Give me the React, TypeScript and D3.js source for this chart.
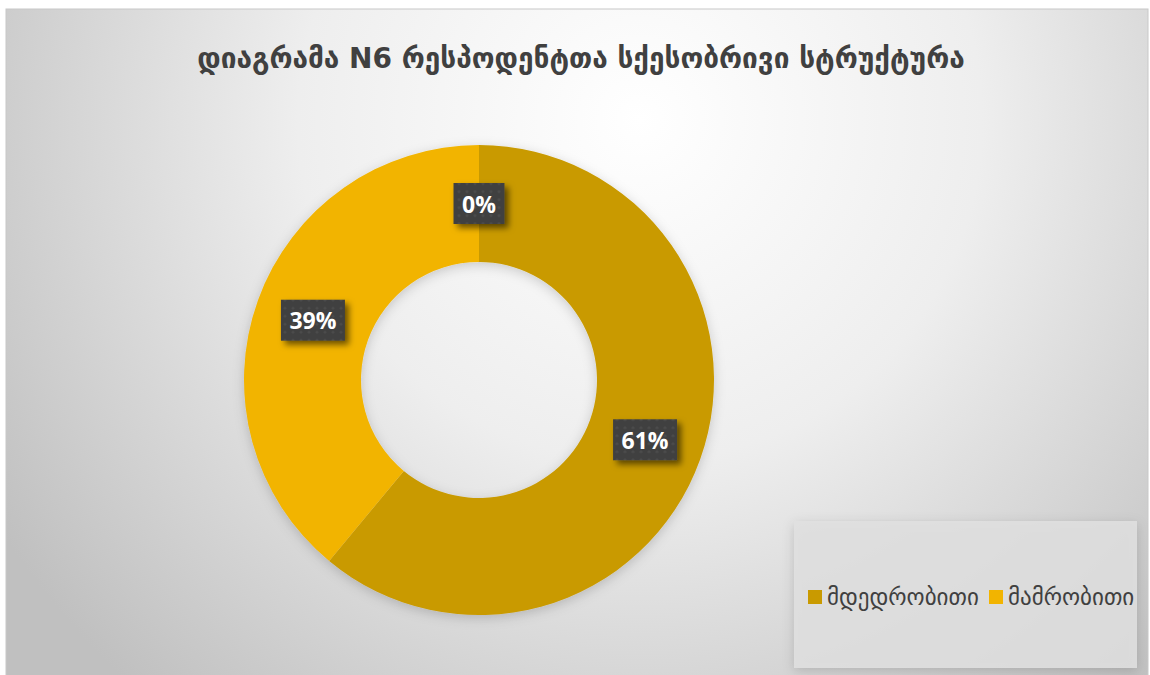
import React, { useEffect, useRef } from 'react';
import * as d3 from 'd3';

const categories = ['მდედრობითი', 'მამრობითი', ''];
const values = [61, 39, 0];
const valueLabels = ['61%', '39%', '0%'];
const colors = ['#C99A00', '#F2B400', '#A0A0A0'];
const legendItems = ['მდედრობითი', 'მამრობითი'];
const title = 'დიაგრამა N6 რესპოდენტთა სქესობრივი სტრუქტურა';

const W = 1150;
const H = 675;

export default function App() {
  const svgRef = useRef<SVGSVGElement>(null);

  useEffect(() => {
    if (!svgRef.current) return;
    const svg = d3.select(svgRef.current);
    svg.selectAll('*').remove();

    const defs = svg.append('defs');

    const bg = defs.append('radialGradient')
      .attr('id', 'bg')
      .attr('gradientUnits', 'userSpaceOnUse')
      .attr('cx', 640).attr('cy', 120).attr('r', 760);
    bg.append('stop').attr('offset', '0%').attr('stop-color', '#ffffff');
    bg.append('stop').attr('offset', '45%').attr('stop-color', '#eeeeee');
    bg.append('stop').attr('offset', '100%').attr('stop-color', '#c0c0c0');

    const pat = defs.append('pattern')
      .attr('id', 'dots')
      .attr('patternUnits', 'userSpaceOnUse')
      .attr('width', 8).attr('height', 8);
    pat.append('rect').attr('width', 8).attr('height', 8).attr('fill', '#3f3f3f');
    pat.append('circle').attr('cx', 4).attr('cy', 4).attr('r', 1.6).attr('fill', '#4b4b4b');

    const shadow = defs.append('filter').attr('id', 'shadow')
      .attr('x', '-30%').attr('y', '-30%').attr('width', '160%').attr('height', '160%');
    shadow.append('feDropShadow')
      .attr('dx', 4).attr('dy', 4).attr('stdDeviation', 3)
      .attr('flood-color', '#000').attr('flood-opacity', 0.55);

    const soft = defs.append('filter').attr('id', 'soft')
      .attr('x', '-10%').attr('y', '-10%').attr('width', '120%').attr('height', '120%');
    soft.append('feDropShadow')
      .attr('dx', 0).attr('dy', 3).attr('stdDeviation', 6)
      .attr('flood-color', '#000').attr('flood-opacity', 0.18);

    // chart area
    svg.append('rect')
      .attr('x', 6).attr('y', 9).attr('width', 1142).attr('height', 670)
      .attr('fill', 'url(#bg)')
      .attr('stroke', '#c8c8c8').attr('stroke-width', 1);

    svg.append('text')
      .attr('x', 581).attr('y', 68)
      .attr('text-anchor', 'middle')
      .attr('font-family', '"DejaVu Sans", sans-serif')
      .attr('font-weight', 'bold')
      .attr('font-size', 28)
      .attr('fill', '#404040')
      .text(title);

    const cx = 479;
    const cy = 380;
    const outerR = 235;
    const innerR = 118;

    const pie = d3.pie<number>().sort(null).value(d => d);
    const arcs = pie(values);
    const arc = d3.arc<d3.PieArcDatum<number>>().innerRadius(innerR).outerRadius(outerR);

    const g = svg.append('g').attr('transform', `translate(${cx},${cy})`);
    g.append('g').attr('filter', 'url(#soft)')
      .selectAll('path')
      .data(arcs.filter(a => a.value > 0))
      .enter()
      .append('path')
      .attr('d', arc)
      .attr('fill', d => colors[d.index]);

    const labelArc = d3.arc<d3.PieArcDatum<number>>()
      .innerRadius((innerR + outerR) / 2)
      .outerRadius((innerR + outerR) / 2);

    arcs.forEach((a, i) => {
      const [lx, ly] = labelArc.centroid(a);
      const lab = g.append('g').attr('transform', `translate(${lx},${ly})`);
      const bw = valueLabels[i].length === 2 ? 51 : 64;
      const bh = 41;
      lab.append('rect')
        .attr('x', -bw / 2).attr('y', -bh / 2)
        .attr('width', bw).attr('height', bh)
        .attr('fill', 'url(#dots)')
        .attr('filter', 'url(#shadow)');
      lab.append('text')
        .attr('text-anchor', 'middle')
        .attr('dominant-baseline', 'central')
        .attr('font-family', '"Open Sans", "Liberation Sans", sans-serif')
        .attr('font-weight', 'bold')
        .attr('font-size', 23)
        .attr('fill', '#ffffff')
        .text(valueLabels[i]);
    });

    // legend
    svg.append('rect')
      .attr('x', 794).attr('y', 521).attr('width', 343).attr('height', 147)
      .attr('fill', '#e0e0e0').attr('fill-opacity', 0.85)
      .attr('filter', 'url(#soft)');

    const lg = svg.append('g').attr('transform', 'translate(808,597)');
    let xOff = 0;
    const widths = [181, 150];
    legendItems.forEach((name, i) => {
      lg.append('rect')
        .attr('x', xOff).attr('y', -7)
        .attr('width', 14).attr('height', 14)
        .attr('fill', colors[categories.indexOf(name)]);
      lg.append('text')
        .attr('x', xOff + 19).attr('y', 0)
        .attr('dominant-baseline', 'central')
        .attr('font-family', '"DejaVu Sans", sans-serif')
        .attr('font-size', 23)
        .attr('fill', '#404040')
        .text(name);
      xOff += widths[i];
    });
  }, []);

  return (
    <svg
      ref={svgRef}
      width={W}
      height={H}
      style={{ position: 'absolute', left: 0, top: 0, background: '#ffffff' }}
    />
  );
}
